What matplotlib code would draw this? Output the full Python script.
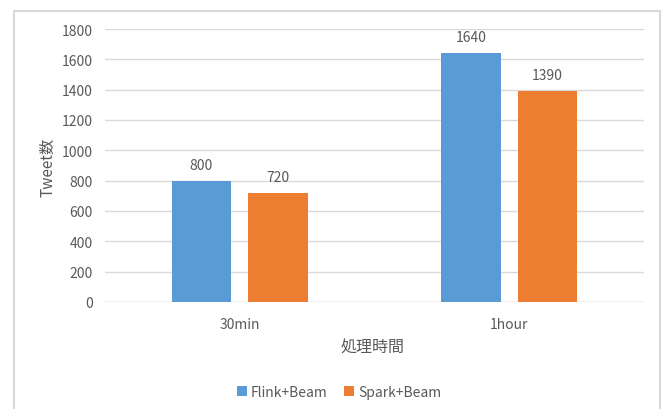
import numpy as np
import matplotlib.pyplot as plt
from matplotlib.patches import Rectangle

plt.rcParams['font.family'] = ['Noto Sans CJK JP', 'DejaVu Sans']

# データ
categories = ["30min", "1hour"]
flink_beam = [800, 1640]
spark_beam = [720, 1390]
series_names = ["Flink+Beam", "Spark+Beam"]

text_color = "#595959"
grid_color = "#D9D9D9"
colors = ["#5B9BD5", "#ED7D31"]

W, H = 663, 410
fig = plt.figure(figsize=(W / 100, H / 100), dpi=100)

# 外枠
fig.patches.append(Rectangle((14 / W, -0.1), (660 - 14) / W, 1.1 - 12 / H,
                             transform=fig.transFigure, fill=False,
                             edgecolor=grid_color, linewidth=1.5))

ax = fig.add_axes([105 / W, 1 - 303 / H, (644 - 105) / W, (303 - 30) / H])

x = np.arange(len(categories))
width = 0.222
offset = 0.142
bars1 = ax.bar(x - offset, flink_beam, width, color=colors[0], label=series_names[0], zorder=3)
bars2 = ax.bar(x + offset, spark_beam, width, color=colors[1], label=series_names[1], zorder=3)

for bars in (bars1, bars2):
    for b in bars:
        ax.annotate(f"{int(b.get_height())}", (b.get_x() + b.get_width() / 2, b.get_height()),
                    xytext=(0, 11.5), textcoords="offset points", ha="center", va="center",
                    fontsize=10, color=text_color)

ax.set_xlim(-0.5, 1.5)
ax.set_ylim(0, 1800)
ax.set_yticks(range(0, 1801, 200))
ax.set_xticks(x)
ax.set_xticklabels(categories)
ax.yaxis.grid(True, color=grid_color, linewidth=1, zorder=0)
for s in ax.spines.values():
    s.set_visible(False)
ax.axhline(0, color=grid_color, linewidth=1, zorder=2)
ax.tick_params(axis="both", length=0, colors=text_color, labelsize=10)
ax.tick_params(axis="y", pad=9)
ax.tick_params(axis="x", pad=11)

fig.text(373 / W, 1 - 348 / H, "処理時間", ha="center", va="center",
         fontsize=11.5, color=text_color)
fig.text(48 / W, 1 - 167 / H, "Tweet数", ha="center", va="center",
         rotation=90, fontsize=11, color=text_color)

fig.legend(loc="center", bbox_to_anchor=(339 / W, 1 - 393 / H), ncol=2, frameon=False,
           handlelength=0.7, handleheight=0.7, handletextpad=0.3, columnspacing=1.2,
           fontsize=10, labelcolor=text_color)

fig.savefig("out.png", dpi=100, facecolor="white")
